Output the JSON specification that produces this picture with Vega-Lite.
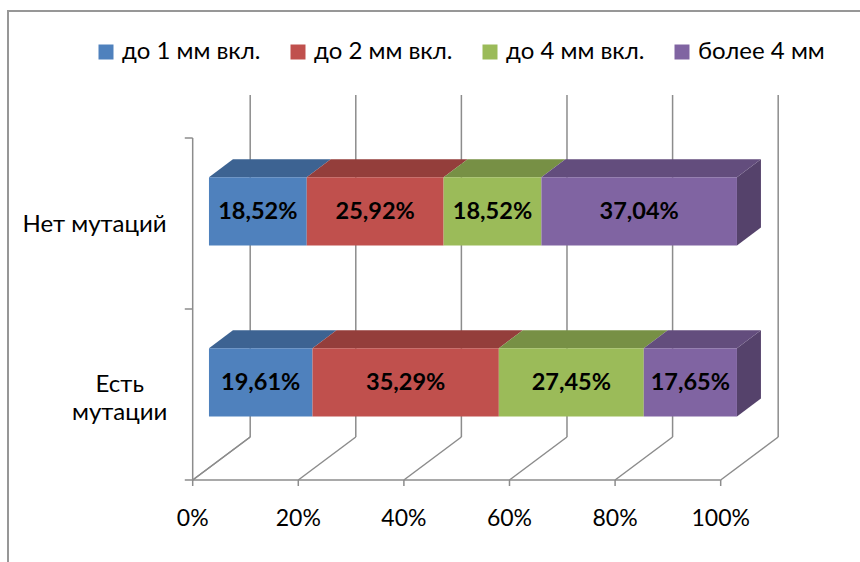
{
  "$schema": "https://vega.github.io/schema/vega-lite/v6.json",
  "autosize": "none",
  "width": 860,
  "height": 560,
  "padding": {"left": 8, "top": 11, "right": 0, "bottom": 0},
  "background": "white",
  "config": {
    "view": {"stroke": "#979797", "strokeWidth": 2},
    "font": "Lato",
    "text": {"font": "Lato", "color": "#000000"}
  },
  "params": [
    {"name": "dx", "value": 10.89},
    {"name": "dy", "value": 0.2515},
    {"name": "d1", "value": 0.283},
    {"name": "d2", "value": 0.70},
    {"name": "bh", "value": 0.2}
  ],
  "datasets": {
    "shares": [
      {"group": "Нет мутаций", "size": "до 1 мм вкл.", "rank": 1, "value": 18.52},
      {"group": "Нет мутаций", "size": "до 2 мм вкл.", "rank": 2, "value": 25.92},
      {"group": "Нет мутаций", "size": "до 4 мм вкл.", "rank": 3, "value": 18.52},
      {"group": "Нет мутаций", "size": "более 4 мм", "rank": 4, "value": 37.04},
      {"group": "Есть мутации", "size": "до 1 мм вкл.", "rank": 1, "value": 19.61},
      {"group": "Есть мутации", "size": "до 2 мм вкл.", "rank": 2, "value": 35.29},
      {"group": "Есть мутации", "size": "до 4 мм вкл.", "rank": 3, "value": 27.45},
      {"group": "Есть мутации", "size": "более 4 мм", "rank": 4, "value": 17.65}
    ],
    "ticks": [{"v": 0}, {"v": 20}, {"v": 40}, {"v": 60}, {"v": 80}, {"v": 100}],
    "rows": [{"u": 0}, {"u": 1}, {"u": 2}]
  },
  "encoding": {
    "x": {"field": "X", "type": "quantitative", "stack": null,
          "scale": {"domain": [-34.98, 127.9], "nice": false, "zero": false}, "axis": null},
    "y": {"field": "Y", "type": "quantitative", "stack": null,
          "scale": {"domain": [-0.5322, 2.7427], "nice": false, "zero": false}, "axis": null}
  },
  "layer": [
    {
      "data": {"name": "ticks"},
      "transform": [
        {"calculate": "datum.v + dx", "as": "X"},
        {"calculate": "dy", "as": "Y"},
        {"calculate": "2 + dy", "as": "Y2"}
      ],
      "mark": {"type": "rule", "color": "#8c8c8c", "strokeWidth": 1.5},
      "encoding": {"y2": {"field": "Y2"}}
    },
    {
      "data": {"name": "ticks"},
      "transform": [
        {"calculate": "datum.v", "as": "X"},
        {"calculate": "0", "as": "Y"},
        {"calculate": "datum.v + dx", "as": "X2"},
        {"calculate": "dy", "as": "Y2"}
      ],
      "mark": {"type": "rule", "color": "#8c8c8c", "strokeWidth": 1.5},
      "encoding": {"x2": {"field": "X2"}, "y2": {"field": "Y2"}}
    },
    {
      "data": {"name": "ticks"},
      "transform": [
        {"calculate": "datum.v", "as": "X"},
        {"calculate": "0", "as": "Y"},
        {"calculate": "-0.035", "as": "Y2"}
      ],
      "mark": {"type": "rule", "color": "#8c8c8c", "strokeWidth": 1.5},
      "encoding": {"y2": {"field": "Y2"}}
    },
    {
      "data": {"name": "ticks"},
      "transform": [
        {"aggregate": [{"op": "min", "field": "v", "as": "X"}, {"op": "max", "field": "v", "as": "X2"}]},
        {"calculate": "0", "as": "Y"}
      ],
      "mark": {"type": "rule", "color": "#8c8c8c", "strokeWidth": 1.5},
      "encoding": {"x2": {"field": "X2"}}
    },
    {
      "data": {"name": "rows"},
      "transform": [
        {"aggregate": [{"op": "min", "field": "u", "as": "Y"}, {"op": "max", "field": "u", "as": "Y2"}]},
        {"calculate": "0", "as": "X"}
      ],
      "mark": {"type": "rule", "color": "#8c8c8c", "strokeWidth": 1.5},
      "encoding": {"y2": {"field": "Y2"}}
    },
    {
      "data": {"name": "rows"},
      "transform": [
        {"aggregate": [{"op": "max", "field": "u", "as": "Y"}]},
        {"calculate": "0", "as": "X"},
        {"calculate": "dx", "as": "X2"},
        {"calculate": "datum.Y + dy", "as": "Y2"}
      ],
      "mark": {"type": "rule", "color": "#8c8c8c", "strokeWidth": 1.5},
      "encoding": {"x2": {"field": "X2"}, "y2": {"field": "Y2"}}
    },
    {
      "data": {"name": "rows"},
      "transform": [
        {"calculate": "-1.5", "as": "X"},
        {"calculate": "0", "as": "X2"},
        {"calculate": "datum.u", "as": "Y"}
      ],
      "mark": {"type": "rule", "color": "#8c8c8c", "strokeWidth": 1.5},
      "encoding": {"x2": {"field": "X2"}}
    },
    {
      "data": {"name": "shares"},
      "transform": [
        {"stack": "value", "groupby": ["group"], "sort": [{"field": "rank", "order": "ascending"}], "as": ["x0", "x1"]},
        {"calculate": "datum.group === 'Нет мутаций' ? 1.5 : 0.5", "as": "yc"},
        {"filter": "datum.rank === 4"},
        {"calculate": "[d1, d2]", "as": "dd"},
        {"flatten": ["dd"]},
        {"calculate": "datum.x1 + datum.dd * dx", "as": "X"},
        {"calculate": "datum.yc - bh + datum.dd * dy", "as": "Y"},
        {"calculate": "datum.yc + bh + datum.dd * dy", "as": "Y2"}
      ],
      "mark": {"type": "area", "orient": "vertical", "color": "#55426b"},
      "encoding": {"y2": {"field": "Y2"}, "detail": {"field": "group"}}
    },
    {
      "data": {"name": "shares"},
      "transform": [
        {"stack": "value", "groupby": ["group"], "sort": [{"field": "rank", "order": "ascending"}], "as": ["x0", "x1"]},
        {"calculate": "datum.group === 'Нет мутаций' ? 1.5 : 0.5", "as": "yc"},
        {"calculate": "[d1, d2]", "as": "dd"},
        {"flatten": ["dd"]},
        {"calculate": "datum.x0 + datum.dd * dx", "as": "X"},
        {"calculate": "datum.x1 + datum.dd * dx", "as": "X2"},
        {"calculate": "datum.yc + bh + datum.dd * dy", "as": "Y"},
        {"calculate": "'top ' + datum.size", "as": "shade"}
      ],
      "mark": {"type": "area", "orient": "horizontal"},
      "encoding": {
        "x2": {"field": "X2"},
        "detail": {"field": "group"},
        "color": {
          "field": "shade", "type": "nominal", "legend": null,
          "scale": {
            "domain": ["top до 1 мм вкл.", "top до 2 мм вкл.", "top до 4 мм вкл.", "top более 4 мм"],
            "range": ["#3d6392", "#943e3b", "#779045", "#634d7d"]
          }
        }
      }
    },
    {
      "data": {"name": "shares"},
      "transform": [
        {"stack": "value", "groupby": ["group"], "sort": [{"field": "rank", "order": "ascending"}], "as": ["x0", "x1"]},
        {"calculate": "datum.group === 'Нет мутаций' ? 1.5 : 0.5", "as": "yc"},
        {"calculate": "datum.x0 + d1 * dx", "as": "X"},
        {"calculate": "datum.x1 + d1 * dx", "as": "X2"},
        {"calculate": "datum.yc - bh + d1 * dy", "as": "Y"},
        {"calculate": "datum.yc + bh + d1 * dy", "as": "Y2"}
      ],
      "mark": {"type": "rect"},
      "encoding": {
        "x2": {"field": "X2"},
        "y2": {"field": "Y2"},
        "color": {
          "field": "size", "type": "nominal",
          "scale": {
            "domain": ["до 1 мм вкл.", "до 2 мм вкл.", "до 4 мм вкл.", "более 4 мм"],
            "range": ["#4f81bd", "#c0504d", "#9bbb59", "#8064a2"]
          },
          "legend": {
            "title": null,
            "orient": "none",
            "direction": "horizontal",
            "legendX": 86,
            "legendY": 29,
            "padding": 0,
            "symbolType": "square",
            "symbolSize": 225,
            "symbolStrokeWidth": 0,
            "labelFont": "Lato",
            "labelFontSize": 24,
            "labelColor": "#000000",
            "labelOffset": 4,
            "columnPadding": 25
          }
        }
      }
    },
    {
      "data": {"name": "shares"},
      "transform": [
        {"stack": "value", "groupby": ["group"], "sort": [{"field": "rank", "order": "ascending"}], "as": ["x0", "x1"]},
        {"calculate": "datum.group === 'Нет мутаций' ? 1.5 : 0.5", "as": "yc"},
        {"calculate": "(datum.x0 + datum.x1) / 2 + d1 * dx", "as": "X"},
        {"calculate": "datum.yc + d1 * dy", "as": "Y"},
        {"calculate": "replace(format(datum.value, '.2f'), '.', ',') + '%'", "as": "label"}
      ],
      "mark": {"type": "text", "font": "Lato", "fontSize": 23.5, "fontWeight": "bold", "align": "center", "baseline": "middle", "dy": 1},
      "encoding": {"text": {"field": "label"}}
    },
    {
      "data": {"name": "shares"},
      "transform": [
        {"aggregate": [{"op": "count", "as": "n"}], "groupby": ["group"]},
        {"filter": "datum.group === 'Нет мутаций'"},
        {"calculate": "1.5", "as": "Y"},
        {"calculate": "0", "as": "X"}
      ],
      "mark": {"type": "text", "font": "Lato", "fontSize": 24, "align": "right", "baseline": "middle", "dx": -26, "dy": 2},
      "encoding": {"text": {"field": "group"}}
    },
    {
      "data": {"name": "shares"},
      "transform": [
        {"aggregate": [{"op": "count", "as": "n"}], "groupby": ["group"]},
        {"filter": "datum.group === 'Есть мутации'"},
        {"calculate": "0.5", "as": "Y"},
        {"calculate": "0", "as": "X"}
      ],
      "mark": {"type": "text", "font": "Lato", "fontSize": 24, "align": "center", "baseline": "middle", "dx": -73, "dy": -9, "lineBreak": " ", "lineHeight": 28},
      "encoding": {"text": {"field": "group"}}
    },
    {
      "data": {"name": "ticks"},
      "transform": [
        {"calculate": "datum.v", "as": "X"},
        {"calculate": "0", "as": "Y"},
        {"calculate": "datum.v + '%'", "as": "label"}
      ],
      "mark": {"type": "text", "font": "Lato", "fontSize": 23, "align": "center", "baseline": "middle", "dy": 39},
      "encoding": {"text": {"field": "label"}}
    }
  ],
  "resolve": {"scale": {"color": "independent"}}
}
